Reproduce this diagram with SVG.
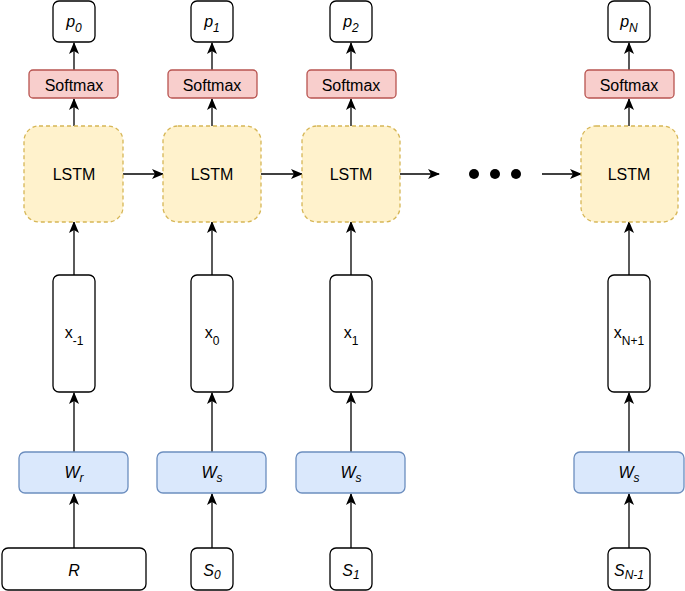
<svg xmlns="http://www.w3.org/2000/svg" width="685" height="591" viewBox="0 0 685 591">
<defs>
<style>
text{font-family:"Liberation Sans",Arial,Helvetica,sans-serif;font-size:16px;fill:#000;text-anchor:middle}
.it{font-style:italic}
.sub{font-size:12px}
.plain{fill:#fff;stroke:#000;stroke-width:1.3}
.lstm{fill:#fff2cc;stroke:#d6b656;stroke-width:1.3;stroke-dasharray:4 3}
.soft{fill:#f8cecc;stroke:#b85450;stroke-width:1.3}
.w{fill:#dae8fc;stroke:#6c8ebf;stroke-width:1.3}
.conn line{stroke:#000;stroke-width:1.3;marker-end:url(#ah)}
</style>
<marker id="ah" viewBox="0 0 12 12" refX="11" refY="6" markerWidth="12" markerHeight="12" markerUnits="userSpaceOnUse" orient="auto">
<path d="M0,1 L12,6 L0,11 L3,6 z" fill="#000"/>
</marker>
</defs>
<rect width="685" height="591" fill="#fff"/>

<g id="connectors" class="conn">
<line x1="74" y1="548" x2="74" y2="494"/>
<line x1="74" y1="452" x2="74" y2="393"/>
<line x1="74" y1="275" x2="74" y2="222"/>
<line x1="74" y1="126" x2="74" y2="99"/>
<line x1="74" y1="70" x2="74" y2="43"/>
<line x1="212" y1="548" x2="212" y2="494"/>
<line x1="212" y1="452" x2="212" y2="393"/>
<line x1="212" y1="275" x2="212" y2="222"/>
<line x1="212" y1="126" x2="212" y2="99"/>
<line x1="212" y1="70" x2="212" y2="43"/>
<line x1="351" y1="548" x2="351" y2="494"/>
<line x1="351" y1="452" x2="351" y2="393"/>
<line x1="351" y1="275" x2="351" y2="222"/>
<line x1="351" y1="126" x2="351" y2="99"/>
<line x1="351" y1="70" x2="351" y2="43"/>
<line x1="629" y1="548" x2="629" y2="494"/>
<line x1="629" y1="452" x2="629" y2="393"/>
<line x1="629" y1="275" x2="629" y2="222"/>
<line x1="629" y1="126" x2="629" y2="99"/>
<line x1="629" y1="70" x2="629" y2="43"/>
<line x1="123" y1="174" x2="163" y2="174"/>
<line x1="261" y1="174" x2="302" y2="174"/>
<line x1="400" y1="174" x2="439" y2="174"/>
<line x1="542" y1="174" x2="581" y2="174"/>
</g>

<g id="dots">
<circle cx="474" cy="174" r="5"/>
<circle cx="495" cy="174" r="5"/>
<circle cx="516" cy="174" r="5"/>
</g>

<!-- column 1 -->
<g id="p0"><rect class="plain" x="53" y="1" width="42" height="41" rx="6"/><text x="74" y="27"><tspan class="it">p</tspan><tspan class="it sub" dy="5">0</tspan></text></g>
<g id="softmax0"><rect class="soft" x="29" y="70" width="89" height="28" rx="4"/><text x="74" y="91">Softmax</text></g>
<g id="lstm0"><rect class="lstm" x="24" y="126" width="99" height="96" rx="15"/><text x="74" y="180">LSTM</text></g>
<g id="x0"><rect class="plain" x="53" y="275" width="42" height="117" rx="6"/><text x="74" y="338">x<tspan class="sub" dy="7">-1</tspan></text></g>
<g id="wr"><rect class="w" x="19" y="452" width="109" height="41" rx="6"/><text x="74" y="478"><tspan class="it">W</tspan><tspan class="it sub" dy="4">r</tspan></text></g>
<g id="r"><rect class="plain" x="2" y="548" width="144" height="42" rx="6"/><text x="74" y="576" class="it">R</text></g>

<!-- column 2 -->
<g id="p1"><rect class="plain" x="191" y="1" width="42" height="41" rx="6"/><text x="212" y="27"><tspan class="it">p</tspan><tspan class="it sub" dy="5">1</tspan></text></g>
<g id="softmax1"><rect class="soft" x="168" y="70" width="89" height="28" rx="4"/><text x="212" y="91">Softmax</text></g>
<g id="lstm1"><rect class="lstm" x="163" y="126" width="98" height="96" rx="15"/><text x="212" y="180">LSTM</text></g>
<g id="x1"><rect class="plain" x="191" y="275" width="42" height="117" rx="6"/><text x="212" y="338">x<tspan class="sub" dy="7">0</tspan></text></g>
<g id="ws1"><rect class="w" x="157" y="452" width="109" height="41" rx="6"/><text x="212" y="478"><tspan class="it">W</tspan><tspan class="it sub" dy="4">s</tspan></text></g>
<g id="s0"><rect class="plain" x="191" y="548" width="42" height="42" rx="6"/><text x="212" y="576"><tspan class="it">S</tspan><tspan class="it sub" dy="3">0</tspan></text></g>

<!-- column 3 -->
<g id="p2"><rect class="plain" x="330" y="1" width="42" height="41" rx="6"/><text x="351" y="27"><tspan class="it">p</tspan><tspan class="it sub" dy="5">2</tspan></text></g>
<g id="softmax2"><rect class="soft" x="307" y="70" width="89" height="28" rx="4"/><text x="351" y="91">Softmax</text></g>
<g id="lstm2"><rect class="lstm" x="302" y="126" width="98" height="96" rx="15"/><text x="351" y="180">LSTM</text></g>
<g id="x2"><rect class="plain" x="330" y="275" width="42" height="117" rx="6"/><text x="351" y="338">x<tspan class="sub" dy="7">1</tspan></text></g>
<g id="ws2"><rect class="w" x="296" y="452" width="109" height="41" rx="6"/><text x="351" y="478"><tspan class="it">W</tspan><tspan class="it sub" dy="4">s</tspan></text></g>
<g id="s1"><rect class="plain" x="330" y="548" width="42" height="42" rx="6"/><text x="351" y="576"><tspan class="it">S</tspan><tspan class="it sub" dy="3">1</tspan></text></g>

<!-- column N -->
<g id="pN"><rect class="plain" x="608" y="1" width="42" height="41" rx="6"/><text x="629" y="27"><tspan class="it">p</tspan><tspan class="it sub" dy="5">N</tspan></text></g>
<g id="softmaxN"><rect class="soft" x="585" y="70" width="89" height="28" rx="4"/><text x="629" y="91">Softmax</text></g>
<g id="lstmN"><rect class="lstm" x="581" y="126" width="97" height="96" rx="15"/><text x="629" y="180">LSTM</text></g>
<g id="xN"><rect class="plain" x="608" y="275" width="42" height="117" rx="6"/><text x="629" y="338">x<tspan class="sub" dy="7">N+1</tspan></text></g>
<g id="wsN"><rect class="w" x="574" y="452" width="110" height="41" rx="6"/><text x="629" y="478"><tspan class="it">W</tspan><tspan class="it sub" dy="4">s</tspan></text></g>
<g id="sN"><rect class="plain" x="608" y="548" width="42" height="42" rx="6"/><text x="629" y="576"><tspan class="it">S</tspan><tspan class="it sub" dy="3">N-1</tspan></text></g>
</svg>
